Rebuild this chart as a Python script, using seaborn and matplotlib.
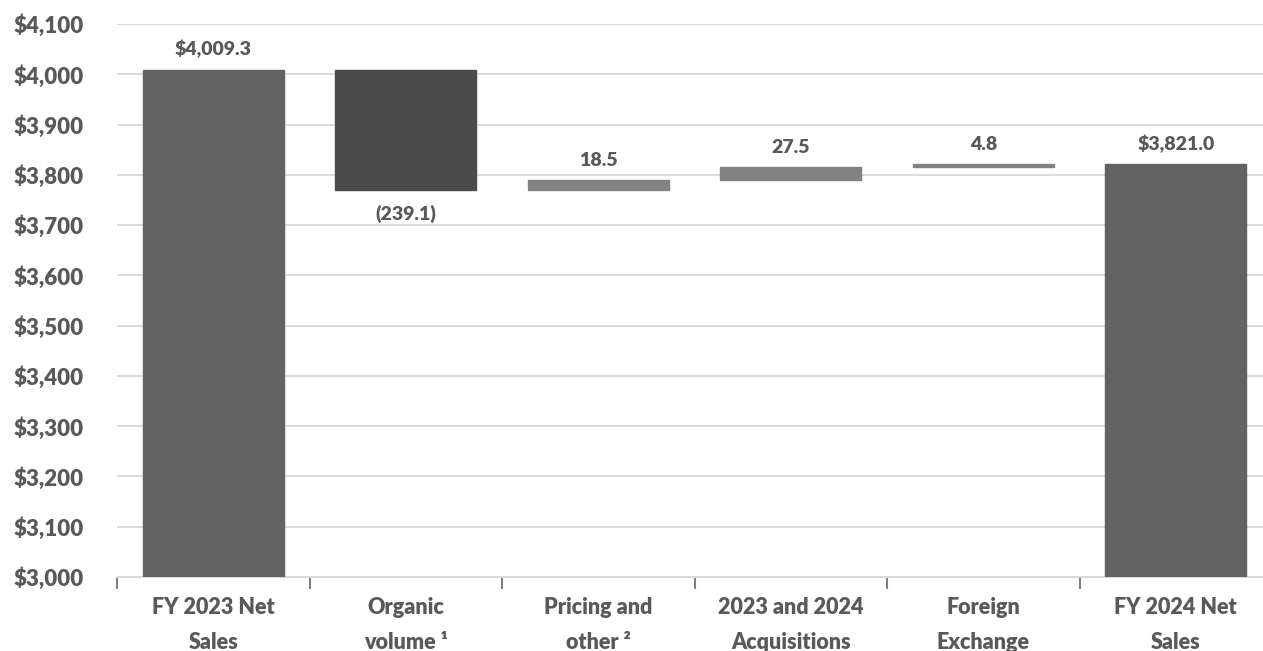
import seaborn as sns
import pandas as pd
import numpy as np
import matplotlib.pyplot as plt
from matplotlib.ticker import FuncFormatter, FixedLocator

sns.set_theme(style="white")
plt.rcParams['font.family'] = ['Lato', 'DejaVu Sans']

categories = ["FY 2023 Net\nSales", "Organic\nvolume \u00b9", "Pricing and\nother \u00b2",
              "2023 and 2024\nAcquisitions", "Foreign\nExchange", "FY 2024 Net\nSales"]
start_total = 4009.3
changes = [-239.1, 18.5, 27.5, 4.8]
end_total = 3821.0
labels = ["$4,009.3", "(239.1)", "18.5", "27.5", "4.8", "$3,821.0"]
bar_colors = ["#636363", "#4b4b4b", "#828282", "#828282", "#828282", "#636363"]

# waterfall geometry from the changes
levels = start_total + np.cumsum([0] + changes)
heights = [start_total] + [abs(c) for c in changes] + [end_total]
bottoms = [0] + [min(levels[i], levels[i + 1]) for i in range(len(changes))] + [0]

df = pd.DataFrame({"step": categories, "height": heights})

txt = "#595959"
fig = plt.figure(figsize=(12.63, 6.51), dpi=100)
ax = fig.add_axes([117 / 1263, 1 - 577 / 651, 1155 / 1263, 553 / 651])

sns.barplot(data=df, x="step", y="height", bottom=bottoms, width=0.73,
            color="#636363", ax=ax, zorder=3)
for p, c in zip(ax.patches, bar_colors):
    p.set_facecolor(c)
    p.set_edgecolor(c)

ax.set_ylim(3000, 4100)
ax.set_xlim(-0.5, 5.5)
ax.set_yticks(np.arange(3000, 4101, 100))
ax.yaxis.set_major_formatter(FuncFormatter(lambda v, _: f"${v:,.0f}"))
ax.grid(axis="y", color="#d9d9d9", linewidth=1.3, zorder=0)
ax.set_axisbelow(True)

for s in ["left", "right", "top"]:
    ax.spines[s].set_visible(False)
ax.spines["bottom"].set_color("#d9d9d9")
ax.spines["bottom"].set_linewidth(1.5)

ax.xaxis.set_minor_locator(FixedLocator(np.arange(-0.5, 6, 1)))
ax.tick_params(axis="x", which="minor", bottom=True, length=8.5, width=1.5,
               color="#7f7f7f", direction="out")
ax.tick_params(axis="x", which="major", bottom=True, length=0, pad=14.5, labelsize=15.5, labelcolor=txt)
ax.tick_params(axis="y", length=0, pad=24, labelsize=16, labelcolor=txt)
for t in ax.get_xticklabels():
    t.set_fontweight("heavy")
    t.set_linespacing(1.8)
for t in ax.get_yticklabels():
    t.set_fontweight("heavy")
ax.set_xlabel("")
ax.set_ylabel("")

for i, (lab, h, b) in enumerate(zip(labels, heights, bottoms)):
    if i == 1:
        ax.annotate(lab, (i, b), xytext=(0, -11), textcoords="offset points",
                    ha="center", va="top", fontsize=14, fontweight="heavy", color=txt)
    else:
        ax.annotate(lab, (i, b + h), xytext=(0, 8), textcoords="offset points",
                    ha="center", va="bottom", fontsize=14, fontweight="heavy", color=txt)

fig.savefig("out.png", dpi=100)
